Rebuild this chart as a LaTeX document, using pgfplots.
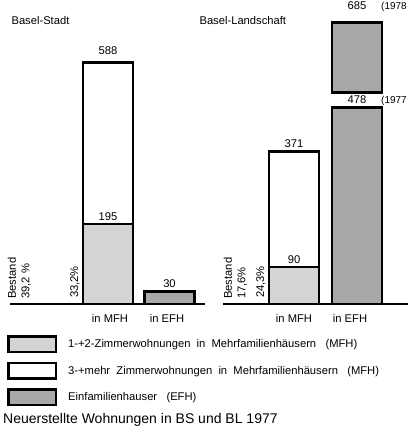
\documentclass[border=0pt]{standalone}
\usepackage{fontspec}
\setmainfont{Liberation Sans}
\usepackage{pgfplots}
\pgfplotsset{compat=1.18}
\definecolor{lightfill}{HTML}{D4D4D4}
\definecolor{darkfill}{HTML}{A8A8A8}
\tikzset{val/.style={anchor=south, inner sep=0pt, yshift=#1}, val/.default=4pt}
\begin{document}
\begin{tikzpicture}[x=1pt,y=1pt,font=\fontsize{11.2}{13}\selectfont]
\path[use as bounding box] (0,0) rectangle (408,437);
% x in pixels, y in number of flats (0.411 px per flat, baseline at 304 px)
\begin{axis}[
    at={(0,0)}, anchor=south west,
    scale only axis, width=408pt, height=437pt,
    xmin=0, xmax=408, ymin=-323.6, ymax=739.7,
    axis lines=none, clip=false,
    ybar stacked, bar width=50pt,
    legend style={draw=none, fill=none, at={(0.01716,0.2334)}, anchor=north west,
        inner sep=0pt, row sep=8.5pt, column sep=11pt, legend cell align=left,
        nodes={inner sep=0pt, font=\fontsize{11.2}{13}\selectfont}},
    legend image code/.code={\draw[#1] (0pt,-7.8pt) rectangle (47.6pt,7.8pt);},
]
% 1-+2-Zimmer MFH
\addplot[fill=lightfill, draw=black, line width=2.4pt] coordinates {(108,195) (169.5,0) (294,90) (357,0)};
% 3-+mehr Zimmer MFH
\addplot[fill=white, draw=black, line width=2.4pt] coordinates {(108,393) (169.5,0) (294,281) (357,0)};
% EFH
\addplot[fill=darkfill, draw=black, line width=2.4pt] coordinates {(108,0) (169.5,30) (294,0) (357,478)};
% gap (invisible)
\addplot[fill=none, draw=none, forget plot] coordinates {(108,0) (169.5,0) (294,0) (357,37)};
% EFH 1978 (upper part up to 685)
\addplot[fill=darkfill, draw=black, line width=2.4pt, forget plot] coordinates {(108,0) (169.5,0) (294,0) (357,170)};
\legend{1-+2-Zimmerwohnungen\ \ in\ \ Mehrfamilienhäusern\ \ \ (MFH),
        3-+mehr\ \ Zimmerwohnungen\ \ in\ \ Mehrfamilienhäusern\ \ \ (MFH),
        Einfamilienhauser\ \ \ (EFH)}
\draw[line width=2pt] (axis cs:10,0) -- (axis cs:205,0);
\draw[line width=2pt] (axis cs:223,0) -- (axis cs:408,0);
% anchor points for value labels
\coordinate (c588) at (axis cs:108,588);
\coordinate (c195) at (axis cs:108,195);
\coordinate (c30) at (axis cs:169.5,30);
\coordinate (c371) at (axis cs:294,371);
\coordinate (c90) at (axis cs:294,90);
\coordinate (c685) at (axis cs:357,685);
\coordinate (c478) at (axis cs:357,478);
\end{axis}
% value labels
\node[val=8pt] at (c588) {588};
\node[val=3pt] at (c195) {195};
\node[val] at (c30) {30};
\node[val] at (c371) {371};
\node[val=3pt] at (c90) {90};
\node[val=13pt] at (c685) (v685) {685};
\node[val] at (c478) (v478) {478};
\node[anchor=base west, inner sep=0pt, font=\fontsize{10}{12}\selectfont] at (381,0 |- v685.base) {(1978};
\node[anchor=base west, inner sep=0pt, font=\fontsize{10}{12}\selectfont] at (381,0 |- v478.base) {(1977};
% titles
\node[anchor=west] at (8,417) {Basel-Stadt};
\node[anchor=west] at (196,417) {Basel-Landschaft};
% categories
\node at (110,119) {in MFH};
\node at (167,119) {in EFH};
\node at (294,119) {in MFH};
\node at (350,119) {in EFH};
% rotated shares
\node[rotate=90, anchor=south west, align=left, inner sep=0pt, font=\fontsize{11.2}{13.5}\selectfont] at (31,138) {Bestand\\39,2 \%};
\node[rotate=90, anchor=west, inner sep=0pt] at (75,139) {33,2\%};
\node[rotate=90, anchor=south west, align=left, inner sep=0pt, font=\fontsize{11.2}{13.5}\selectfont] at (247,138) {Bestand\\17,6\%};
\node[rotate=90, anchor=west, inner sep=0pt] at (261,139) {24,3\%};
% chart title
\node[anchor=west, inner sep=0pt, font=\fontsize{14}{16}\selectfont] at (3,17) {Neuerstellte Wohnungen in BS und BL 1977};
\end{tikzpicture}
\end{document}
